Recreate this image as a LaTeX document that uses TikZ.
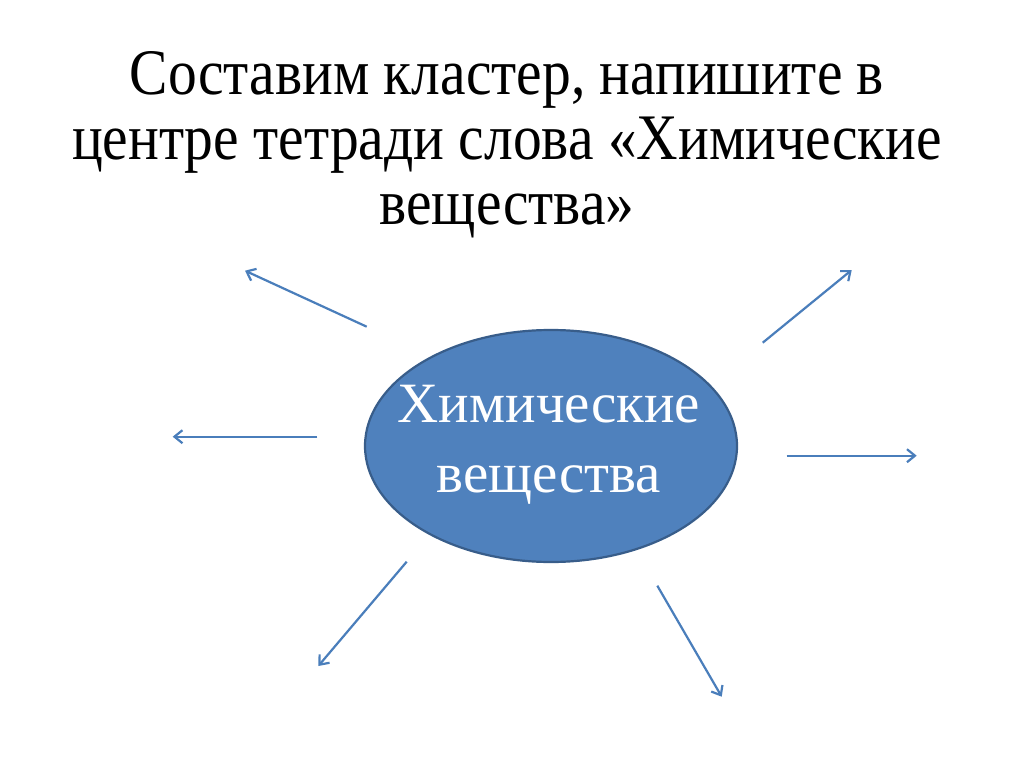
\documentclass[tikz,border=0pt]{standalone}
\usepackage{fontspec}
\setmainfont{Liberation Serif}
\usetikzlibrary{shapes.geometric,arrows.meta}
\definecolor{ellfill}{HTML}{4F81BD}
\definecolor{elldraw}{HTML}{385D8A}
\definecolor{arrowblue}{HTML}{4A7EBB}
\newcommand{\tallline}[1]{\scalebox{1}[1.13]{#1}}
\tikzset{
  titletext/.style={anchor=base, inner sep=0pt, font=\fontsize{57.5pt}{64pt}\selectfont},
  elltext/.style={anchor=base, inner sep=0pt, text=white, font=\fontsize{57pt}{68pt}\selectfont},
  ray/.style={draw=arrowblue, line width=2.2pt, -{Straight Barb[length=8pt,width=13pt]}}
}
\begin{document}
\begin{tikzpicture}[x=1pt,y=-1pt]
\useasboundingbox[fill=white] (0,0) rectangle (1024,767);
\node[titletext] (t1) at (507,95) {\tallline{Составим кластер, напишите в}};
\node[titletext] (t2) at (507,160) {\tallline{центре тетради слова «Химические}};
\node[titletext] (t3) at (507,225) {\tallline{вещества»}};
\node[ellipse, draw=elldraw, fill=ellfill, line width=2.2pt, minimum width=372pt, minimum height=232pt, inner sep=0pt] (ell) at (551,446) {};
\node[elltext] (e1) at (549,422) {Химические};
\node[elltext] (e2) at (549,492) {вещества};
\coordinate (a1s) at (366.7,326.7); \coordinate (a1e) at (245,270.7);
\coordinate (a2s) at (762.7,342.7); \coordinate (a2e) at (851.7,270);
\coordinate (a3s) at (317.3,436.7); \coordinate (a3e) at (172.7,436.7);
\coordinate (a4s) at (786.7,455.7); \coordinate (a4e) at (916.7,455.7);
\coordinate (a5s) at (406.7,561.7); \coordinate (a5e) at (318.3,666);
\coordinate (a6s) at (657.3,585.7); \coordinate (a6e) at (721.7,696.7);
\draw[ray] (a1s) -- (a1e);
\draw[ray] (a2s) -- (a2e);
\draw[ray] (a3s) -- (a3e);
\draw[ray] (a4s) -- (a4e);
\draw[ray] (a5s) -- (a5e);
\draw[ray] (a6s) -- (a6e);
\end{tikzpicture}
\end{document}
